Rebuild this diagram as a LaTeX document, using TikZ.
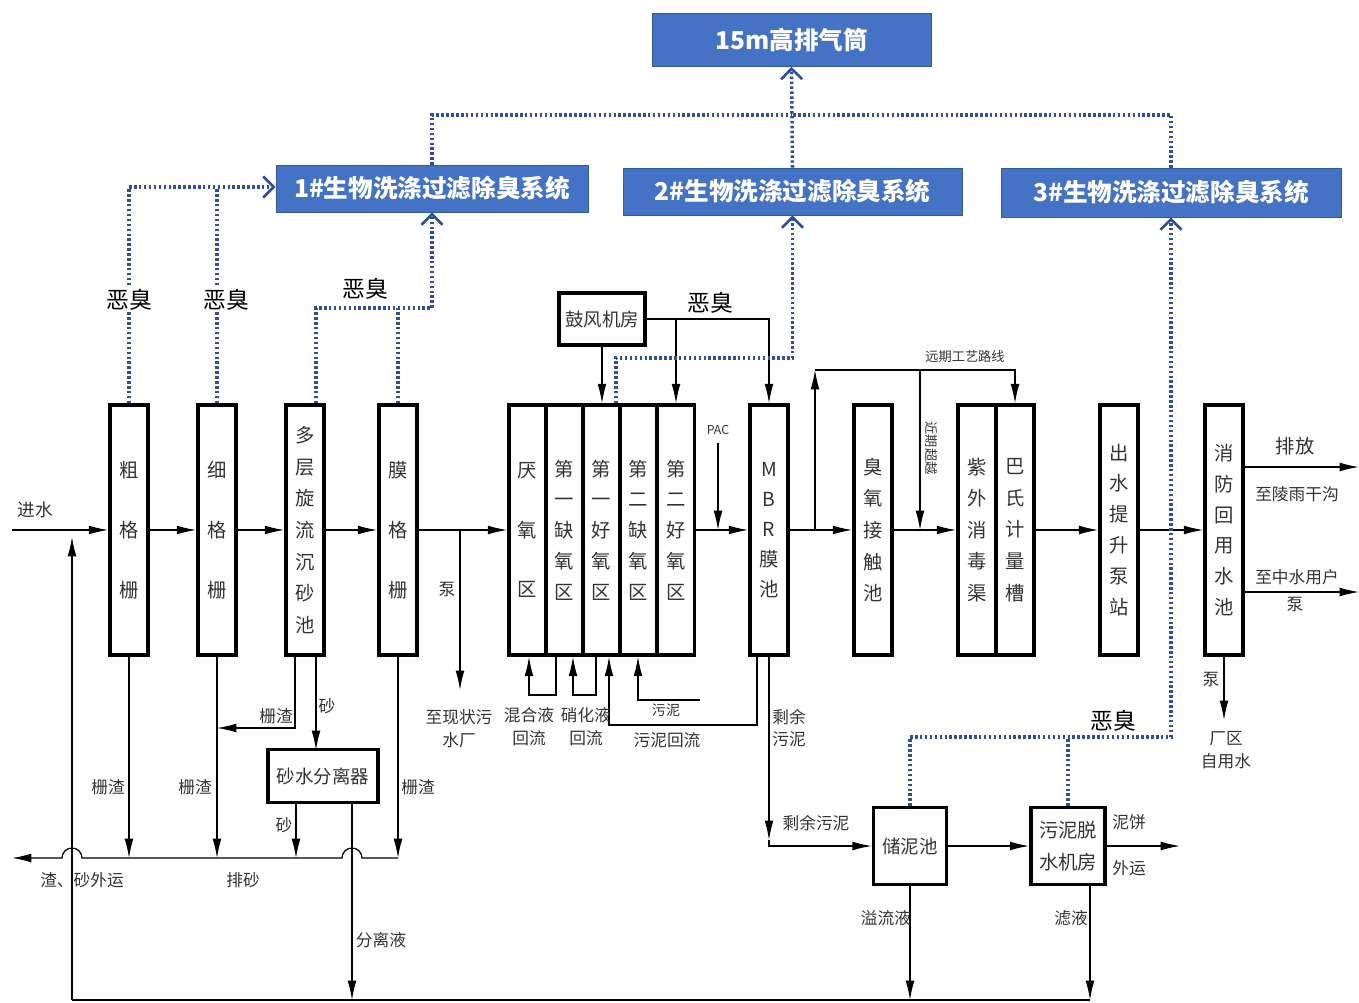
\documentclass[tikz,border=0pt]{standalone}
\usepackage{fontspec}
\setmainfont{Noto Sans CJK SC}
\usetikzlibrary{arrows.meta,calc,positioning}
\definecolor{sysblue}{HTML}{4472C4}
\definecolor{odorblue}{HTML}{2F4F9A}
\definecolor{txt}{HTML}{333333}
\begin{document}
\begin{tikzpicture}[
    x=0.02cm,y=-0.02cm,
    proc/.style={draw,line width=2pt,minimum width=0.76cm,minimum height=5cm,inner sep=0pt,
      align=center,text=txt,font=\fontsize{11}{34}\selectfont},
    zone/.style={proc,minimum width=0.74cm},
    sbox/.style={draw,line width=2pt,inner sep=0pt,align=center,text=txt,font=\fontsize{10.5}{14}\selectfont},
    sys/.style={draw=sysblue!80!black,fill=sysblue,text=white,inner sep=0pt,font=\fontsize{14}{16}\selectfont\bfseries},
    lbl/.style={text=txt,inner sep=1pt,align=center,font=\fontsize{9.5}{13}\selectfont},
    smell/.style={fill=white,inner sep=1pt,font=\fontsize{13}{15}\selectfont},
    arr/.style={line width=0.7pt,-{Latex[length=11pt,width=5pt]}},
    ln/.style={line width=0.7pt},
    odor/.style={odorblue,line width=2pt,dash pattern=on 1.4pt off 1.4pt},
    oarr/.style={-{Straight Barb[length=6pt,width=12pt,line width=1.5pt]}}
]
\useasboundingbox (0,0) rectangle (1359,1003);

% deodorising systems
\node[sys,minimum width=5.58cm,minimum height=1.06cm] (pq) at (791.5,40) {15m高排气筒};
\node[sys,minimum width=6.24cm,minimum height=0.94cm] (s1) at (432,188.5) {1\#生物洗涤过滤除臭系统};
\node[sys,minimum width=6.78cm,minimum height=0.94cm] (s2) at (792.5,191.5) {2\#生物洗涤过滤除臭系统};
\node[sys,minimum width=6.8cm,minimum height=0.98cm] (s3) at (1171,192.5) {3\#生物洗涤过滤除臭系统};

% main process line
\node[proc] (cg) at (129,530) {粗\\格\\栅};
\node[proc] (xg) at (217,530) {细\\格\\栅};
\node[proc,font=\fontsize{11}{18}\selectfont] (cs) at (305,530) {多\\层\\旋\\流\\沉\\砂\\池};
\node[proc] (mg) at (398,530) {膜\\格\\栅};
\node[zone] (ay) at (527.5,530) {厌\\氧\\区};
\node[zone,font=\fontsize{11}{17.5}\selectfont] (q1) at (564.5,530) {第\\一\\缺\\氧\\区};
\node[zone,font=\fontsize{11}{17.5}\selectfont] (h1) at (601.5,530) {第\\一\\好\\氧\\区};
\node[zone,font=\fontsize{11}{17.5}\selectfont] (q2) at (638.5,530) {第\\二\\缺\\氧\\区};
\node[zone,font=\fontsize{11}{17.5}\selectfont] (h2) at (676,530) {第\\二\\好\\氧\\区};
\node[proc,font=\fontsize{11}{17}\selectfont] (mbr) at (769,530) {M\\B\\R\\膜\\池};
\node[proc,font=\fontsize{11}{18}\selectfont] (cy) at (873,530) {臭\\氧\\接\\触\\池};
\node[proc,font=\fontsize{11}{18}\selectfont] (uv) at (977,530) {紫\\外\\消\\毒\\渠};
\node[proc,font=\fontsize{11}{18}\selectfont] (bs) at (1015,530) {巴\\氏\\计\\量\\槽};
\node[proc,font=\fontsize{11}{17.6}\selectfont] (ts) at (1119,530) {出\\水\\提\\升\\泵\\站};
\node[proc,font=\fontsize{11}{17.6}\selectfont] (hy) at (1224,530) {消\\防\\回\\用\\水\\池};

\node[sbox,minimum width=1.72cm,minimum height=1.04cm] (gf) at (602,319) {鼓风机房};
\node[sbox,minimum width=2.2cm,minimum height=1.06cm] (sf) at (323,776) {砂水分离器};
\node[sbox,minimum width=1.46cm,minimum height=1.54cm] (cn) at (910,846) {储泥池};
\node[sbox,minimum width=1.48cm,minimum height=1.54cm,font=\fontsize{11}{18}\selectfont] (tp) at (1068,846) {污泥脱\\水机房};

% helper points
\coordinate (in) at (12,530);
\coordinate (xz) at (460,690);
\coordinate (pac) at (718,443);
\coordinate (yq) at (815,370);
\coordinate (jq) at (920,370);
\coordinate (pf) at (1359,467);
\coordinate (zs) at (1359,592);
\coordinate (zy) at (1224,720);
\coordinate (gfr) at (769,319);
\coordinate (zz) at (12,858);
\coordinate (zq) at (295,728);
\coordinate (sa) at (316,750);
\coordinate (sb) at (296,858);
\coordinate (fl) at (352,1000);
\coordinate (hp1) at (352,858);
\coordinate (hp2) at (72,858);
\coordinate (rb) at (72,1000);
\coordinate (rt) at (72,537);
\coordinate (lq) at (1090,1000);
\coordinate (ex) at (769,840);
\coordinate (wr) at (757,725);
\coordinate (wh) at (609,725);
\coordinate (m1) at (556,695);
\coordinate (m2) at (529,695);
\coordinate (n1) at (596,695);
\coordinate (n2) at (573,695);
\coordinate (p1) at (700,700);
\coordinate (p2) at (638,700);
\coordinate (pe) at (1180,846);

% water flow
\draw[arr] (in) -- (cg);
\draw[arr] (cg) -- (xg);
\draw[arr] (xg) -- (cs);
\draw[arr] (cs) -- (mg);
\draw[arr] (mg) -- (ay);
\draw[arr] (xz |- mg) -- (xz);
\draw[arr] (h2) -- (mbr);
\draw[arr] (pac) -- (pac |- mbr);
\draw[arr] (mbr) -- (cy);
\draw[arr] (yq |- mbr) -- (yq);
\draw[arr] (yq) -| (bs.north);
\draw[arr] (jq) -- (jq |- cy);
\draw[arr] (cy) -- (uv);
\draw[arr] (bs) -- (ts);
\draw[arr] (ts) -- (hy);
\draw[arr] (hy.east |- pf) -- (pf);
\draw[arr] (hy.east |- zs) -- (zs);
\draw[arr] (hy) -- (zy);

% air
\draw[arr] (gf.south) -- (gf.south |- h1.north);
\draw[arr] (gf.east) -- (gfr) -- (mbr.north);
\draw[arr] (h2.north |- gf) -- (h2.north);

% screenings and grit
\draw[arr] (cg.south) -- (cg.south |- zz);
\draw[arr] (xg.south) -- (xg.south |- zz);
\draw[arr] (mg.south) -- (mg.south |- zz);
\draw[arr] (zq |- cs.south) -- (zq) -- (zq -| xg);
\draw[arr] (sa |- cs.south) -- (sa);
\draw[arr] (sb |- sf.south) -- (sb);
\draw[arr] (fl |- sf.south) -- (fl);
\draw[arr] (mg.south |- zz) -- ($(hp1)+(10,0)$) arc[start angle=0,end angle=180,radius=0.2cm]
  -- ($(hp2)+(10,0)$) arc[start angle=0,end angle=180,radius=0.2cm] -- (zz);
\draw[arr] (rb) -- (rt);
\draw[ln] (rb) -- (lq);

% returns and sludge
\draw[arr] (m1 |- ay.south) -- (m1) -- (m2) -- (m2 |- ay.south);
\draw[arr] (n1 |- ay.south) -- (n1) -- (n2) -- (n2 |- ay.south);
\draw[arr] (p1) -- (p2) -- (p2 |- ay.south);
\draw[arr] (wr |- mbr.south) -- (wr) -- (wh) -- (wh |- ay.south);
\draw[arr] (mbr.south) -- (ex);
\draw[arr] (ex) |- (cn);
\draw[arr] (cn) -- (tp);
\draw[arr] (tp) -- (pe);
\draw[arr] (cn.south) -- (cn.south |- rb);
\draw[arr] (lq |- tp.south) -- (lq);

% odour collection
\coordinate (o1) at (129,187);
\coordinate (o2) at (432,308);
\coordinate (o3) at (316,308);
\coordinate (o4) at (791,115);
\coordinate (o5) at (616,358);
\coordinate (o6) at (1171,737);
\draw[odor,oarr] (cg.north) -- (o1) -- (s1.west |- o1);
\draw[odor] (xg.north) -- (xg.north |- o1);
\draw[odor,oarr] (o3 |- cs.north) -- (o3) -- (o2) -- (s1.south);
\draw[odor] (mg.north) -- (mg.north |- o2);
\draw[odor] (s1.north) |- (o4);
\draw[odor] (s3.north) |- (o4);
\draw[odor,oarr] (s2.north) -- (pq.south);
\draw[odor,oarr] (o5 |- h1.north) -- (o5) -| (s2.south);
\draw[odor,oarr] (cn.north) |- (o6) -- (s3.south);
\draw[odor] (tp.north) -- (tp.north |- o6);

\node[smell] (e1) at (129,300) {恶臭};
\node[smell] (e2) at (226,300) {恶臭};
\node[smell] (e3) at (365,289) {恶臭};
\node[smell] (e4) at (710,303) {恶臭};
\node[smell] (e5) at (1113,721) {恶臭};

% labels
\node[lbl,font=\fontsize{10}{12}\selectfont] (t1) at (35,510) {进水};
\node[lbl] (t2) at (447,590) {泵};
\node[lbl] (t3) at (459,729) {至现状污\\水厂};
\node[lbl,font=\fontsize{7}{8}\selectfont] (t4) at (718,430) {PAC};
\node[lbl] (t5) at (108,787) {栅渣};
\node[lbl] (t6) at (195,787) {栅渣};
\node[lbl] (t7) at (418,787) {栅渣};
\node[lbl] (t8) at (276,716) {栅渣};
\node[lbl] (t9) at (327,706) {砂};
\node[lbl] (t10) at (284,825) {砂};
\node[lbl] (t11) at (82,880) {渣、砂外运};
\node[lbl] (t12) at (243,880) {排砂};
\node[lbl] (t13) at (381,940) {分离液};
\node[lbl] (t14) at (529,727) {混合液\\回流};
\node[lbl] (t15) at (586,727) {硝化液\\回流};
\node[lbl,font=\fontsize{8}{10}\selectfont] (t16) at (666,710) {污泥};
\node[lbl] (t17) at (667,740) {污泥回流};
\node[lbl] (t18) at (789,728) {剩余\\污泥};
\node[lbl] (t19) at (816,823) {剩余污泥};
\node[lbl] (t20) at (886,918) {溢流液};
\node[lbl] (t21) at (1071,918) {滤液};
\node[lbl] (t22) at (1129,822) {泥饼};
\node[lbl] (t23) at (1129,868) {外运};
\node[lbl,font=\fontsize{11}{13}\selectfont] (t24) at (1295,446) {排放};
\node[lbl] (t25) at (1297,494) {至陵雨干沟};
\node[lbl] (t26) at (1297,577) {至中水用户};
\node[lbl] (t27) at (1295,605) {泵};
\node[lbl] (t28) at (1211,680) {泵};
\node[lbl] (t29) at (1226,750) {厂区\\自用水};
\node[lbl,font=\fontsize{7.5}{9}\selectfont] (t30) at (965,357) {远期工艺路线};
\node[lbl,font=\fontsize{7.5}{9}\selectfont,rotate=-90] (t31) at (931,448) {近期超越};
\end{tikzpicture}
\end{document}
